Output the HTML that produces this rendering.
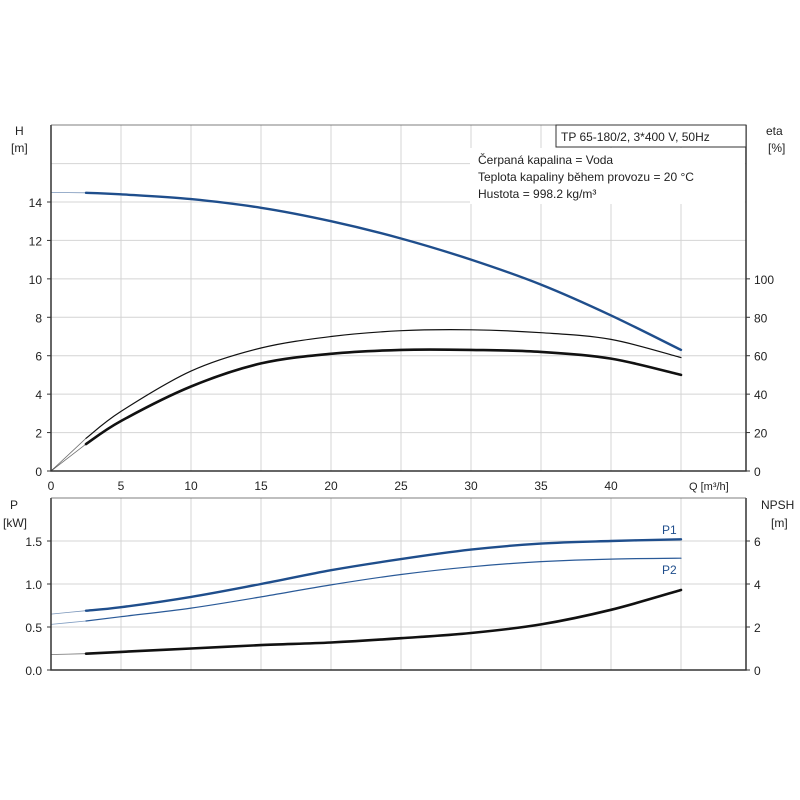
<!DOCTYPE html>
<html><head><meta charset="utf-8"><style>
body{margin:0;background:#fff;}
svg{display:block;font-family:"Liberation Sans",sans-serif;}
</style></head><body>
<svg id="chart" width="800" height="800" viewBox="0 0 800 800">
<rect x="0" y="0" width="800" height="800" fill="#fff"/>
<g id="grid"></g>
<g id="curves"></g>
<g id="axes"></g>
<g id="labels" font-size="12" fill="#222"></g>
</svg>
<script>
// ---- data ----
const qTicks = [0,5,10,15,20,25,30,35,40,45];
const qTickLabels = ['0','5','10','15','20','25','30','35','40',''];
const hTicks = [0,2,4,6,8,10,12,14];
const etaTicks = [0,20,40,60,80,100];
const pTicks = [0.0,0.5,1.0,1.5];
const npshTicks = [0,2,4,6];
const qPts = [0,2.5,5,10,15,20,25,30,35,40,45];
const headH = [14.5,14.48,14.4,14.15,13.7,13.0,12.1,11.0,9.7,8.1,6.3];
const etaTotal = [0,17,31,52,64,70,73,73.5,72,68.5,59];
const etaPump = [0,14,26,44,56,61,63,63,62,58.5,50];
const powerP1 = [0.65,0.69,0.73,0.85,1.0,1.16,1.29,1.40,1.47,1.50,1.52];
const powerP2 = [0.53,0.57,0.62,0.72,0.85,0.99,1.11,1.20,1.26,1.29,1.30];
const npsh = [0.72,0.76,0.84,1.0,1.16,1.28,1.48,1.72,2.12,2.8,3.72];

// ---- axes functions ----
const X0=51, X1=746, QPX=14;
const xq = q => X0 + q*QPX;
const T_TOP=125, T_BOT=471;
const yH = h => T_BOT - h*(T_BOT-202)/14;
const yEta = e => yH(e/10);
const B_TOP=498, B_BOT=670;
const yP = p => B_BOT - p*(B_BOT-B_TOP)/2;
const yN = n => yP(n/4);

const NS='http://www.w3.org/2000/svg';
function mk(tag, parent, attrs){const e=document.createElementNS(NS,tag);for(const k in attrs)e.setAttribute(k,attrs[k]);document.getElementById(parent).appendChild(e);return e;}
function txt(parent,x,y,s,anchor,name,size){const t=mk('text',parent,{x:x,y:y,'text-anchor':anchor||'start'});if(size)t.setAttribute('font-size',size);t.textContent=s;


return t;}
function pathD(xs,ys){
  let pts=xs.map((x,i)=>[x,ys[i]]);
  let d='M'+pts[0][0].toFixed(1)+','+pts[0][1].toFixed(1);
  for(let i=0;i<pts.length-1;i++){
    const p0=pts[Math.max(0,i-1)],p1=pts[i],p2=pts[i+1],p3=pts[Math.min(pts.length-1,i+2)];
    const c1=[p1[0]+(p2[0]-p0[0])/6,p1[1]+(p2[1]-p0[1])/6];
    const c2=[p2[0]-(p3[0]-p1[0])/6,p2[1]-(p3[1]-p1[1])/6];
    d+=' C'+c1.map(v=>v.toFixed(1)).join(',')+' '+c2.map(v=>v.toFixed(1)).join(',')+' '+p2[0].toFixed(1)+','+p2[1].toFixed(1);
  }
  return d;
}
function curve(vals,yf,color,w,name){
  const s=mk('path','curves',{d:pathD(qPts.slice(0,2).map(xq),vals.slice(0,2).map(yf)),fill:'none',stroke:color,'stroke-width':0.8,opacity:0.6});
  
  
  const p=mk('path','curves',{d:pathD(qPts.slice(1).map(xq),vals.slice(1).map(yf)),fill:'none',stroke:color,'stroke-width':w,'stroke-linecap':'round'});
  
  
}

// ---- grid ----
const gc='#d4d4d4';
qTicks.forEach(q=>{ if(q===0) return;
  const l1=mk('line','grid',{x1:xq(q),x2:xq(q),y1:T_TOP,y2:T_BOT,stroke:gc});
  
  
  const l2=mk('line','grid',{x1:xq(q),x2:xq(q),y1:B_TOP,y2:B_BOT,stroke:gc});
  
  
});
[2,4,6,8,10,12,14,16].forEach(h=>{
  const l=mk('line','grid',{x1:X0,x2:X1,y1:yH(h),y2:yH(h),stroke:gc});
  
  
});
[0.5,1.0,1.5].forEach(p=>{
  const l=mk('line','grid',{x1:X0,x2:X1,y1:yP(p),y2:yP(p),stroke:gc});
  
  
});
const wb=mk('rect','grid',{x:470,y:148,width:275,height:56,fill:'#fff'});



// ---- curves ----
curve(headH,yH,'#1f4e8c',2.4,'head-curve');
curve(etaTotal,yEta,'#111',1.2,'eta-total-curve');
curve(etaPump,yEta,'#111',2.6,'eta-pump-curve');
curve(powerP1,yP,'#1f4e8c',2.4,'p1-curve');
curve(powerP2,yP,'#2a5a98',1.2,'p2-curve');
curve(npsh,yN,'#111',2.6,'npsh-curve');

// ---- axes ----
function frame(y0,y1,name){
  const r=mk('path','axes',{d:`M${X0},${y0} L${X0},${y1} L${X1},${y1} L${X1},${y0}`,fill:'none',stroke:'#333','stroke-width':1.5});
  
  
  const t=mk('line','axes',{x1:X0,x2:X1,y1:y0,y2:y0,stroke:'#555','stroke-width':0.8});
  
  
}
frame(T_TOP,T_BOT,'top-plot-frame');
frame(B_TOP,B_BOT,'bottom-plot-frame');

hTicks.forEach(h=>{
  const l=mk('line','axes',{x1:X0-4,x2:X0,y1:yH(h),y2:yH(h),stroke:'#333'});
  
  
  txt('labels',42,yH(h)+5,String(h),'end','h-tick-label');});
etaTicks.forEach(e=>{
  const l=mk('line','axes',{x1:X1,x2:X1+4,y1:yEta(e),y2:yEta(e),stroke:'#333'});
  
  
  txt('labels',754,yEta(e)+5,String(e),'start','eta-tick-label');});
qTicks.forEach((q,i)=>{ if(qTickLabels[i]) txt('labels',xq(q),490,qTickLabels[i],'middle','q-tick-label');});
pTicks.forEach(p=>{
  const l=mk('line','axes',{x1:X0-4,x2:X0,y1:yP(p),y2:yP(p),stroke:'#333'});
  
  
  txt('labels',42,yP(p)+5,p.toFixed(1),'end','p-tick-label');});
npshTicks.forEach(n=>{
  const l=mk('line','axes',{x1:X1,x2:X1+4,y1:yN(n),y2:yN(n),stroke:'#333'});
  
  
  txt('labels',754,yN(n)+5,String(n),'start','npsh-tick-label');});

txt('labels',689,490,'Q [m³/h]','start','x-axis-title',11);
txt('labels',15,135,'H','start','h-axis-title');
txt('labels',11,152,'[m]','start','h-axis-unit');
txt('labels',766,135,'eta','start','eta-axis-title');
txt('labels',768,152,'[%]','start','eta-axis-unit');
txt('labels',10,509,'P','start','p-axis-title');
txt('labels',3,527,'[kW]','start','p-axis-unit');
txt('labels',761,509,'NPSH','start','npsh-axis-title');
txt('labels',771,527,'[m]','start','npsh-axis-unit');
const l1=txt('labels',662,534,'P1','start','p1-label'); l1.setAttribute('fill','#1f4e8c');
const l2=txt('labels',662,574,'P2','start','p2-label'); l2.setAttribute('fill','#1f4e8c');

const box=mk('rect','axes',{x:556,y:125,width:190,height:22,fill:'#fff',stroke:'#333','stroke-width':1});


txt('labels',561,141,'TP 65-180/2, 3*400 V, 50Hz','start','pump-title');
txt('labels',478,164,'Čerpaná kapalina = Voda','start','liquid-info');
txt('labels',478,181,'Teplota kapaliny během provozu = 20 °C','start','temperature-info');
txt('labels',478,198,'Hustota = 998.2 kg/m³','start','density-info');
</script>
</body></html>
